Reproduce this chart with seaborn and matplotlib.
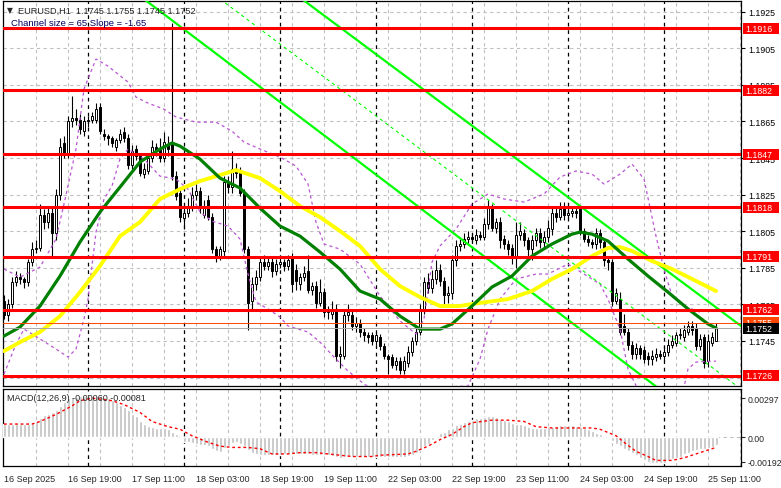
import matplotlib
matplotlib.use("Agg")
import matplotlib.pyplot as plt
import matplotlib.transforms as mtransforms
from matplotlib.patches import Rectangle
import numpy as np
import seaborn as sns

sns.set_style("white")
plt.rcParams['font.family'] = ['Liberation Sans', 'DejaVu Sans']

# ------------------------------------------------------------
# EURUSD H1 candles
# ------------------------------------------------------------
opens = [
    1.1767, 1.1759, 1.1765, 1.1777, 1.1780, 1.1779, 1.1777, 1.1788, 1.1795, 1.1796,
    1.1814, 1.1810, 1.1815, 1.1804, 1.1825, 1.1853, 1.1847, 1.1865, 1.1867, 1.1866,
    1.1860, 1.1865, 1.1866, 1.1866, 1.1873, 1.1858, 1.1857, 1.1856, 1.1851, 1.1855,
    1.1859, 1.1856, 1.1841, 1.1850, 1.1846, 1.1836, 1.1838, 1.1845, 1.1851, 1.1850,
    1.1845, 1.1852, 1.1854, 1.1835, 1.1826, 1.1812, 1.1815, 1.1818, 1.1825, 1.1827,
    1.1814, 1.1822, 1.1813, 1.1795, 1.1791, 1.1794, 1.1832, 1.1829, 1.1839, 1.1837,
    1.1826, 1.1795, 1.1767, 1.1776, 1.1780, 1.1788, 1.1786, 1.1788, 1.1783, 1.1787,
    1.1788, 1.1786, 1.1791, 1.1784, 1.1776, 1.1780, 1.1783, 1.1773, 1.1775, 1.1766,
    1.1772, 1.1761, 1.1760, 1.1762, 1.1737, 1.1737, 1.1759, 1.1759, 1.1753, 1.1755,
    1.1750, 1.1748, 1.1748, 1.1745, 1.1747, 1.1742, 1.1737, 1.1736, 1.1732, 1.1734,
    1.1729, 1.1733, 1.1739, 1.1745, 1.1750, 1.1762, 1.1777, 1.1774, 1.1779, 1.1784,
    1.1778, 1.1770, 1.1771, 1.1789, 1.1797, 1.1798, 1.1801, 1.1802, 1.1800, 1.1803,
    1.1802, 1.1809, 1.1818, 1.1807, 1.1810, 1.1801, 1.1798, 1.1796, 1.1791, 1.1803,
    1.1804, 1.1800, 1.1795, 1.1800, 1.1804, 1.1799, 1.1802, 1.1806, 1.1815, 1.1813,
    1.1818, 1.1814, 1.1815, 1.1816, 1.1817, 1.1805, 1.1801, 1.1799, 1.1798, 1.1804,
    1.1799, 1.1789, 1.1788, 1.1767, 1.1768, 1.1753, 1.1750, 1.1743, 1.1738, 1.1741,
    1.1740, 1.1737, 1.1735, 1.1736, 1.1738, 1.1737, 1.1739, 1.1743, 1.1744, 1.1748,
    1.1747, 1.1750, 1.1753, 1.1752, 1.1742, 1.1747, 1.1734, 1.1744, 1.1745,
]
highs = [
    1.1770, 1.1768, 1.1780, 1.1783, 1.1782, 1.1780, 1.1790, 1.1799, 1.1800, 1.1820,
    1.1817, 1.1818, 1.1818, 1.1828, 1.1856, 1.1857, 1.1868, 1.1879, 1.1872, 1.1869,
    1.1868, 1.1868, 1.1870, 1.1875, 1.1875, 1.1861, 1.1858, 1.1857, 1.1856, 1.1861,
    1.1862, 1.1858, 1.1852, 1.1852, 1.1848, 1.1842, 1.1847, 1.1855, 1.1853, 1.1856,
    1.1859, 1.1857, 1.1919, 1.1838, 1.1828, 1.1818, 1.1823, 1.1829, 1.1831, 1.1829,
    1.1822, 1.1825, 1.1815, 1.1797, 1.1797, 1.1835, 1.1835, 1.1849, 1.1842, 1.1840,
    1.1828, 1.1797, 1.1780, 1.1784, 1.1791, 1.1792, 1.1791, 1.1791, 1.1790, 1.1791,
    1.1790, 1.1792, 1.1793, 1.1787, 1.1782, 1.1786, 1.1792, 1.1777, 1.1778, 1.1779,
    1.1774, 1.1764, 1.1767, 1.1765, 1.1742, 1.1762, 1.1765, 1.1762, 1.1758, 1.1757,
    1.1752, 1.1750, 1.1750, 1.1750, 1.1749, 1.1744, 1.1738, 1.1738, 1.1736, 1.1736,
    1.1737, 1.1742, 1.1747, 1.1753, 1.1765, 1.1780, 1.1782, 1.1784, 1.1789, 1.1787,
    1.1780, 1.1775, 1.1792, 1.1800, 1.1801, 1.1804, 1.1805, 1.1804, 1.1806, 1.1805,
    1.1812, 1.1822, 1.1820, 1.1812, 1.1813, 1.1803, 1.1800, 1.1798, 1.1810, 1.1810,
    1.1806, 1.1802, 1.1803, 1.1807, 1.1807, 1.1805, 1.1811, 1.1818, 1.1818, 1.1821,
    1.1821, 1.1818, 1.1819, 1.1818, 1.1819, 1.1807, 1.1803, 1.1801, 1.1807, 1.1806,
    1.1801, 1.1791, 1.1790, 1.1774, 1.1772, 1.1760, 1.1752, 1.1745, 1.1744, 1.1743,
    1.1742, 1.1739, 1.1740, 1.1741, 1.1740, 1.1742, 1.1746, 1.1748, 1.1750, 1.1752,
    1.1754, 1.1756, 1.1756, 1.1755, 1.1749, 1.1749, 1.1749, 1.1750, 1.1755,
]
lows = [
    1.1757, 1.1756, 1.1763, 1.1775, 1.1776, 1.1774, 1.1775, 1.1786, 1.1793, 1.1794,
    1.1806, 1.1807, 1.1791, 1.1800, 1.1822, 1.1845, 1.1845, 1.1862, 1.1863, 1.1858,
    1.1857, 1.1862, 1.1864, 1.1864, 1.1858, 1.1855, 1.1852, 1.1851, 1.1849, 1.1853,
    1.1854, 1.1839, 1.1839, 1.1844, 1.1835, 1.1834, 1.1836, 1.1843, 1.1846, 1.1843,
    1.1843, 1.1846, 1.1833, 1.1822, 1.1810, 1.1806, 1.1813, 1.1816, 1.1822, 1.1815,
    1.1812, 1.1811, 1.1793, 1.1788, 1.1789, 1.1791, 1.1826, 1.1826, 1.1834, 1.1824,
    1.1793, 1.1751, 1.1762, 1.1773, 1.1778, 1.1784, 1.1784, 1.1780, 1.1781, 1.1785,
    1.1783, 1.1784, 1.1772, 1.1773, 1.1773, 1.1778, 1.1771, 1.1770, 1.1763, 1.1764,
    1.1758, 1.1757, 1.1757, 1.1734, 1.1730, 1.1735, 1.1756, 1.1751, 1.1750, 1.1747,
    1.1745, 1.1744, 1.1743, 1.1743, 1.1740, 1.1735, 1.1727, 1.1730, 1.1729, 1.1727,
    1.1727, 1.1731, 1.1737, 1.1743, 1.1748, 1.1760, 1.1771, 1.1771, 1.1776, 1.1775,
    1.1765, 1.1766, 1.1768, 1.1786, 1.1794, 1.1796, 1.1798, 1.1799, 1.1798, 1.1800,
    1.1800, 1.1806, 1.1805, 1.1804, 1.1796, 1.1795, 1.1792, 1.1787, 1.1785, 1.1800,
    1.1797, 1.1789, 1.1789, 1.1797, 1.1796, 1.1796, 1.1799, 1.1803, 1.1810, 1.1811,
    1.1811, 1.1812, 1.1813, 1.1812, 1.1803, 1.1799, 1.1797, 1.1796, 1.1795, 1.1796,
    1.1786, 1.1784, 1.1764, 1.1765, 1.1748, 1.1748, 1.1740, 1.1735, 1.1735, 1.1735,
    1.1733, 1.1732, 1.1732, 1.1734, 1.1735, 1.1734, 1.1737, 1.1741, 1.1742, 1.1746,
    1.1745, 1.1748, 1.1748, 1.1740, 1.1740, 1.1730, 1.1731, 1.1742, 1.1745,
]
closes = [
    1.1759, 1.1765, 1.1777, 1.1780, 1.1779, 1.1777, 1.1788, 1.1795, 1.1796, 1.1814,
    1.1810, 1.1815, 1.1804, 1.1825, 1.1851, 1.1847, 1.1865, 1.1867, 1.1866, 1.1861,
    1.1865, 1.1866, 1.1868, 1.1872, 1.1860, 1.1857, 1.1856, 1.1853, 1.1855, 1.1858,
    1.1856, 1.1841, 1.1849, 1.1846, 1.1837, 1.1839, 1.1845, 1.1851, 1.1849, 1.1845,
    1.1854, 1.1850, 1.1835, 1.1824, 1.1813, 1.1815, 1.1818, 1.1825, 1.1827, 1.1818,
    1.1819, 1.1813, 1.1795, 1.1791, 1.1795, 1.1832, 1.1829, 1.1839, 1.1837, 1.1826,
    1.1795, 1.1766, 1.1776, 1.1780, 1.1788, 1.1786, 1.1788, 1.1783, 1.1787, 1.1788,
    1.1786, 1.1789, 1.1776, 1.1778, 1.1780, 1.1782, 1.1773, 1.1775, 1.1766, 1.1772,
    1.1761, 1.1761, 1.1762, 1.1737, 1.1738, 1.1759, 1.1761, 1.1753, 1.1755, 1.1750,
    1.1748, 1.1747, 1.1745, 1.1748, 1.1742, 1.1737, 1.1735, 1.1732, 1.1734, 1.1729,
    1.1734, 1.1739, 1.1745, 1.1750, 1.1762, 1.1777, 1.1774, 1.1779, 1.1784, 1.1778,
    1.1770, 1.1771, 1.1789, 1.1797, 1.1798, 1.1801, 1.1802, 1.1801, 1.1803, 1.1802,
    1.1809, 1.1818, 1.1807, 1.1810, 1.1800, 1.1798, 1.1795, 1.1791, 1.1803, 1.1805,
    1.1800, 1.1795, 1.1800, 1.1804, 1.1799, 1.1802, 1.1807, 1.1815, 1.1813, 1.1817,
    1.1814, 1.1815, 1.1816, 1.1815, 1.1805, 1.1801, 1.1799, 1.1798, 1.1804, 1.1799,
    1.1789, 1.1788, 1.1767, 1.1771, 1.1750, 1.1750, 1.1743, 1.1738, 1.1741, 1.1738,
    1.1735, 1.1735, 1.1737, 1.1738, 1.1737, 1.1739, 1.1743, 1.1745, 1.1748, 1.1749,
    1.1751, 1.1753, 1.1751, 1.1742, 1.1746, 1.1733, 1.1745, 1.1747, 1.1752,
]

# moving averages (bar index, price)
green_idx = [0, 4, 9, 14, 19, 24, 29, 34, 39, 42, 44, 49, 54, 59, 64, 69, 74, 79, 84, 89,
             94, 99, 104, 109, 112, 117, 122, 127, 132, 137, 142, 144, 147, 151, 156, 161,
             166, 171, 176, 178]
green_ma = [1.17477, 1.17526, 1.17641, 1.17805, 1.17991, 1.18155, 1.18291, 1.18428, 1.18499,
            1.18532, 1.18515, 1.18444, 1.18340, 1.18286, 1.18176, 1.18078, 1.18023, 1.17936,
            1.17843, 1.17723, 1.17679, 1.17586, 1.17515, 1.17515, 1.17543, 1.17641, 1.17745,
            1.17805, 1.17914, 1.17980, 1.18034, 1.18045, 1.18034, 1.17996, 1.17898, 1.17805,
            1.17717, 1.17625, 1.17543, 1.17521]
yellow_idx = [0, 4, 9, 14, 19, 24, 29, 34, 39, 44, 49, 54, 58, 64, 69, 74, 79, 84, 89, 94,
              99, 104, 109, 114, 117, 126, 132, 137, 142, 147, 151, 154, 157, 162, 167, 172, 178]
yellow_ma = [1.17395, 1.17444, 1.17499, 1.17586, 1.17717, 1.17860, 1.18023, 1.18100, 1.18226,
             1.18280, 1.18324, 1.18357, 1.18384, 1.18340, 1.18269, 1.18187, 1.18127, 1.18051,
             1.17969, 1.17843, 1.17750, 1.17690, 1.17641, 1.17641, 1.17652, 1.17679, 1.17723,
             1.17789, 1.17843, 1.17914, 1.17958, 1.17963, 1.17942, 1.17887, 1.17843, 1.17789,
             1.17723]

# violet bands
band_up_idx = [0, 4, 9, 13, 15, 18, 20, 23, 26, 31, 33, 36, 40, 43, 48, 53, 57, 60, 64, 69,
               73, 76, 78, 80, 84, 89, 94, 99, 103, 105, 107, 109, 113, 117, 121, 125, 130,
               135, 139, 143, 147, 150, 154, 157, 160, 163, 165, 167, 170, 174, 178]
band_up = [1.17843, 1.17799, 1.17854, 1.18007, 1.18198, 1.18499, 1.18827, 1.18991, 1.18952,
           1.18865, 1.18783, 1.18750, 1.18717, 1.18674, 1.18646, 1.18646, 1.18597, 1.18537,
           1.18499, 1.18455, 1.18406, 1.18308, 1.18100, 1.17980, 1.17952, 1.17870, 1.17696,
           1.17559, 1.17488, 1.17570, 1.17881, 1.17969, 1.18062, 1.18198, 1.18253, 1.18226,
           1.18209, 1.18253, 1.18346, 1.18379, 1.18362, 1.18308, 1.18362, 1.18417, 1.18335,
           1.18023, 1.17843, 1.17696, 1.17641, 1.17608, 1.17625]
band_lo_idx = [0, 3, 5, 9, 13, 16, 18, 20, 21, 23, 25, 27, 29, 31, 35, 39, 43, 46, 49, 52,
               56, 59, 61, 63, 66, 69, 71, 76, 79, 83, 86, 90, 94, 99, 104, 109, 116, 119,
               121, 124, 128, 133, 136, 141, 145, 149, 151, 154, 156, 159, 164, 170, 171,
               173, 178]
band_lo = [1.17269, 1.17433, 1.17515, 1.17461, 1.17406, 1.17362, 1.17406, 1.17570, 1.17679,
           1.18045, 1.18226, 1.18297, 1.18444, 1.18499, 1.18444, 1.18351, 1.18335, 1.18280,
           1.18155, 1.18105, 1.18078, 1.18007, 1.17816, 1.17663, 1.17625, 1.17581, 1.17532,
           1.17499, 1.17444, 1.17351, 1.17286, 1.17215, 1.17160, 1.17144, 1.17187, 1.17198,
           1.17204, 1.17351, 1.17515, 1.17679, 1.17788, 1.17816, 1.17816, 1.17870, 1.17816,
           1.17761, 1.17679, 1.17515, 1.17297, 1.17160, 1.17133, 1.17198, 1.17297, 1.17335,
           1.17340]

# regression channel (end points)
chan_idx = [0, 185]
chan_lower = [1.19897, 1.16838]
chan_mid = [1.20202, 1.17175]
chan_upper = [1.20531, 1.17520]

levels = [1.1916, 1.1882, 1.1847, 1.1818, 1.1791, 1.1762, 1.1726]
price_ticks = [1.1925, 1.1905, 1.1885, 1.1865, 1.1845, 1.1825, 1.1805, 1.1785, 1.1765, 1.1745]
grid_prices = [1.1925, 1.1905, 1.1885, 1.1865, 1.1845, 1.1825, 1.1805, 1.1785, 1.1765, 1.1745, 1.1725]
ask_price = 1.1755
bid_price = 1.1752

# MACD(12,26,9)
macd_hist = [
    0.00100, 0.00098, 0.00099, 0.00100, 0.00101, 0.00100, 0.00102, 0.00105,
    0.00120, 0.00150, 0.00170, 0.00180, 0.00190, 0.00210, 0.00240, 0.00270, 0.00300, 0.00310,
    0.00312, 0.00315, 0.00316, 0.00318, 0.00317, 0.00316, 0.00314, 0.00305, 0.00300, 0.00285,
    0.00270, 0.00250, 0.00230, 0.00210, 0.00180, 0.00160, 0.00125, 0.00100, 0.00085, 0.00075,
    0.00072, 0.00070, 0.00070, 0.00060, 0.00040, 0.00020, 0.00000, -0.00035, -0.00040, -0.00048,
    -0.00052, -0.00058, -0.00062, -0.00070, -0.00090, -0.00110, -0.00118, -0.00085, -0.00070, -0.00045,
    -0.00040, -0.00050, -0.00070, -0.00100, -0.00120, -0.00130, -0.00138, -0.00140, -0.00140, -0.00138,
    -0.00137, -0.00136, -0.00133, -0.00130, -0.00130, -0.00132, -0.00130, -0.00130, -0.00133, -0.00137,
    -0.00140, -0.00140, -0.00142, -0.00140, -0.00145, -0.00155, -0.00160, -0.00150, -0.00148, -0.00150,
    -0.00150, -0.00152, -0.00152, -0.00153, -0.00153, -0.00152, -0.00152, -0.00153, -0.00155, -0.00155,
    -0.00155, -0.00155, -0.00153, -0.00148, -0.00140, -0.00120, -0.00100, -0.00070, -0.00050, -0.00020,
    0.00000, 0.00030, 0.00040, 0.00060, 0.00070, 0.00090, 0.00100, 0.00115, 0.00125, 0.00135,
    0.00145, 0.00150, 0.00155, 0.00160, 0.00160, 0.00155, 0.00140, 0.00130, 0.00120, 0.00110,
    0.00100, 0.00098, 0.00090, 0.00080, 0.00072, 0.00070, 0.00070, 0.00070, 0.00075, 0.00080,
    0.00085, 0.00090, 0.00090, 0.00092, 0.00090, 0.00088, 0.00080, 0.00070, 0.00060, 0.00050,
    0.00030, 0.00020, 0.00000, -0.00010, -0.00030, -0.00050, -0.00070, -0.00090, -0.00110, -0.00120,
    -0.00140, -0.00160, -0.00180, -0.00190, -0.00200, -0.00202, -0.00200, -0.00198, -0.00180, -0.00170,
    -0.00160, -0.00150, -0.00130, -0.00120, -0.00110, -0.00100, -0.00090, -0.00090, -0.00085, -0.00080,
    -0.00060,
]
signal_idx = [0, 7, 9, 12, 14, 17, 19, 22, 27, 30, 34, 37, 41, 44, 47, 51, 54, 57, 61, 64,
              67, 71, 74, 78, 81, 84, 87, 92, 94, 101, 103, 106, 109, 112, 115, 117, 122, 126,
              130, 133, 137, 142, 147, 149, 153, 155, 158, 161, 163, 167, 170, 173, 178]
signal = [0.0010, 0.0010, 0.0012, 0.0016, 0.0019, 0.0024, 0.0028, 0.0030, 0.0028, 0.0025,
          0.0019, 0.0012, 0.0008, 0.0006, 0.0001, -0.0004, -0.0007, -0.0008, -0.0008, -0.0009,
          -0.0013, -0.0013, -0.0012, -0.0012, -0.0013, -0.0014, -0.0015, -0.0015, -0.0014, -0.0013,
          -0.0011, -0.0007, -0.0002, 0.0002, 0.0008, 0.0011, 0.0013, 0.0013, 0.0012, 0.0008,
          0.0007, 0.0007, 0.0007, 0.0006, 0.0001, -0.0004, -0.0011, -0.0015, -0.0018, -0.0018,
          -0.0016, -0.0013, -0.0008]

time_idx = [0, 16, 32, 48, 64, 80, 96, 112, 128, 144, 160, 176]
time_labels = ['16 Sep 2025', '16 Sep 19:00', '17 Sep 11:00', '18 Sep 03:00', '18 Sep 19:00',
               '19 Sep 11:00', '22 Sep 03:00', '22 Sep 19:00', '23 Sep 11:00', '24 Sep 03:00',
               '24 Sep 19:00', '25 Sep 11:00']
day_idx = [21, 45, 69, 93, 117, 141, 165]

# ------------------------------------------------------------
W, H = 781, 489
fig = plt.figure(figsize=(W / 100, H / 100), dpi=100)
fig.patch.set_facecolor('white')
ax = fig.add_axes([3 / W, 1 - 387 / H, 738 / W, 385 / H])
axm = fig.add_axes([3 / W, 1 - 467 / H, 738 / W, 77 / H])

XMIN, XMAX = -0.25, 184.25
GRID = dict(color='#c0c0c0', lw=0.8, ls=(0, (3, 3)), zorder=1)
SEP = dict(color='black', lw=0.9, ls=(0, (3, 3)), zorder=1.2)
AXFS = 6.3

for a in (ax, axm):
    a.set_facecolor('white')
    a.set_xlim(XMIN, XMAX)
    for s in a.spines.values():
        s.set_color('black')
        s.set_linewidth(0.9)
    for k in range(8, 185, 8):
        a.axvline(k, **GRID)
    for d in day_idx:
        a.axvline(d, **SEP)

# ---------------- main panel ----------------
ax.set_ylim(1.17204, 1.19308)
for p in grid_prices:
    ax.axhline(p, **GRID)

o = np.array(opens); h = np.array(highs); l = np.array(lows); c = np.array(closes)
idx = np.arange(len(c))
ax.vlines(idx, l, h, color='black', lw=0.8, zorder=4)
up = c >= o
bottom = np.minimum(o, c)
height = np.maximum(np.abs(c - o), 0.00002)
ax.bar(idx[up], height[up], bottom=bottom[up], width=0.72, color='white',
       edgecolor='black', linewidth=0.7, zorder=5)
ax.bar(idx[~up], height[~up], bottom=bottom[~up], width=0.72, color='black',
       edgecolor='black', linewidth=0.7, zorder=5)

# bands
ax.plot(band_up_idx, band_up, color='#ba55d3', lw=0.9, ls=(0, (2.5, 2.5)), zorder=6)
ax.plot(band_lo_idx, band_lo, color='#ba55d3', lw=0.9, ls=(0, (2.5, 2.5)), zorder=6)

# channel
ax.plot(chan_idx, chan_lower, color='#00ff00', lw=1.6, zorder=6)
ax.plot(chan_idx, chan_upper, color='#00ff00', lw=1.6, zorder=6)
ax.plot(chan_idx, chan_mid, color='#00ff00', lw=0.8, ls=(0, (3, 3)), zorder=6)

# moving averages
sns.lineplot(x=yellow_idx, y=yellow_ma, ax=ax, color='#ffff00', lw=2.8, zorder=7)
sns.lineplot(x=green_idx, y=green_ma, ax=ax, color='#008000', lw=2.3, zorder=7)

# levels and price lines
for lv in levels:
    ax.axhline(lv, color='#ff0000', lw=2.2, zorder=8)
ax.axhline(ask_price, color='#ff4500', lw=0.7, zorder=8)
ax.axhline(bid_price, color='#a8a8a8', lw=0.7, zorder=8)

ax.set_xlabel(''); ax.set_ylabel('')
ax.set_xticks([])
ax.yaxis.tick_right()
ax.set_yticks(price_ticks)
ax.set_yticklabels([f'{p:.4f}' for p in price_ticks])
ax.tick_params(axis='y', direction='out', length=3, width=0.8, pad=2, labelsize=AXFS,
               colors='black')

trans = mtransforms.blended_transform_factory(ax.transAxes, ax.transData)
box_w = 36 / 738
box_h = 11 / 18300
def price_box(val, face, z):
    ax.add_patch(Rectangle((1.0025, val - box_h / 2), box_w, box_h, transform=trans,
                           facecolor=face, edgecolor='none', clip_on=False, zorder=z))
    ax.text(1.0055, val, f'{val:.4f}', transform=trans, color='white', fontsize=AXFS,
            va='center', ha='left', clip_on=False, zorder=z + 0.5)

for lv in levels:
    price_box(lv, '#ff0000', 10)
price_box(ask_price, '#ff4500', 11)
price_box(bid_price, 'black', 12)

# ---------------- MACD panel ----------------
axm.set_ylim(-0.00223, 0.00370)
axm.axhline(0, **GRID)
axm.bar(idx, macd_hist, width=0.75, color='#c0c0c0', zorder=3)
axm.plot(signal_idx, signal, color='#ff0000', lw=1.0, ls=(0, (2, 2)), zorder=4)
axm.yaxis.tick_right()
axm.set_yticks([0.00297, 0.0, -0.00192])
axm.set_yticklabels(['0.00297', '0.00', '-0.00192'])
axm.tick_params(axis='y', direction='out', length=3, width=0.8, pad=1.5, labelsize=AXFS)
axm.set_xticks(time_idx)
axm.set_xticklabels(time_labels)
axm.tick_params(axis='x', direction='out', length=3, width=0.8, pad=3, labelsize=6.5)
for t in axm.get_xticklabels():
    t.set_ha('left')
axm.text(4 / 738, (467 - 399) / 77, 'MACD(12,26,9) -0.00060 -0.00081',
         transform=axm.transAxes, fontsize=6.5, va='center', ha='left', zorder=10)

# ---------------- header ----------------
fig.text(7 / W, 1 - 11 / H, '\u25bc', fontsize=5.5, va='center', ha='left',
         family=['DejaVu Sans'])
fig.text(18 / W, 1 - 11 / H, 'EURUSD,H1  1.1745 1.1755 1.1745 1.1752', fontsize=6.6,
         va='center', ha='left')
fig.text(11 / W, 1 - 24 / H, 'Channel size = 65 Slope = -1.65', fontsize=6.8,
         va='center', ha='left', color='#000060')

fig.savefig('out.png', dpi=100, facecolor='white')
